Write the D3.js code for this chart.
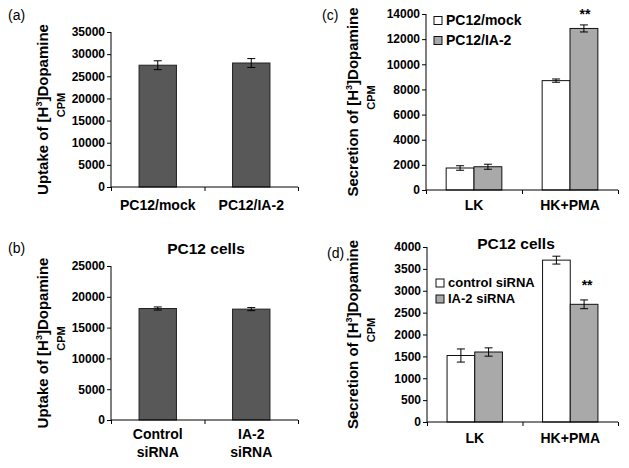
<!DOCTYPE html>
<html><head><meta charset="utf-8">
<script src="https://cdn.jsdelivr.net/npm/d3@7"></script>
<style>body{margin:0;background:#fff}svg{display:block}text{font-family:"Liberation Sans",Arial,sans-serif}</style>
</head><body>
<svg id="c" width="629" height="468"></svg>
<script>
// ---- data ----
const catsA = ["PC12/mock", "PC12/IA-2"];
const valsA = [27500, 28000];
const errA  = [1000, 1000];
const ticksA = [0,5000,10000,15000,20000,25000,30000,35000];

const catsB = [["Control","siRNA"], ["IA-2","siRNA"]];
const valsB = [18100, 18000];
const errB  = [250, 250];
const ticksB = [0,5000,10000,15000,20000,25000];

const catsC = ["LK", "HK+PMA"];
const seriesC = ["PC12/mock", "PC12/IA-2"];
const valsC_mock = [1750, 8700];
const valsC_ia2  = [1850, 12850];
const errC_mock  = [180, 130];
const errC_ia2   = [200, 280];
const ticksC = [0,2000,4000,6000,8000,10000,12000,14000];

const catsD = ["LK", "HK+PMA"];
const seriesD = ["control siRNA", "IA-2 siRNA"];
const valsD_ctrl = [1520, 3700];
const valsD_ia2  = [1600, 2690];
const errD_ctrl  = [150, 90];
const errD_ia2   = [95, 100];
const ticksD = [0,500,1000,1500,2000,2500,3000,3500,4000];

const svg = d3.select("#c");
const DARK = "#585858", GRAY = "#a9a9a9", WHITE = "#ffffff";

function yAxisTitle(g, x, yc, main){
  const t = g.append("text").attr("transform",`translate(${x},${yc}) rotate(-90)`)
    .attr("text-anchor","middle").attr("font-size",15).attr("font-weight","bold");
  t.append("tspan").text(main + " [H");
  t.append("tspan").attr("font-size",9).attr("dy",-6).text("3");
  t.append("tspan").attr("dy",6).text("]Dopamine");
  g.append("text").attr("transform",`translate(${x+17},${yc-4.5}) rotate(-90)`)
    .attr("text-anchor","middle").attr("font-size",11).attr("font-weight","bold").text("CPM");
}

function axes(g, x0, x1, y, ticks, catsCount){
  const ax = g.append("g").attr("transform",`translate(${x0},0)`)
    .call(d3.axisLeft(y).tickValues(ticks).tickSize(4).tickPadding(2).tickFormat(d3.format("d")));
  ax.select(".domain").attr("d",`M0,${y.range()[1]}V${y.range()[0]}`);
  ax.selectAll("text").attr("font-size",12).attr("font-weight","bold").attr("fill","#000")
    .style("font-family",'"Liberation Sans",Arial,sans-serif');
  const xb = d3.scaleLinear().domain([0,catsCount]).range([x0,x1]);
  const bx = g.append("g").attr("transform",`translate(0,${y(0)})`)
    .call(d3.axisBottom(xb).tickValues(d3.range(catsCount+1)).tickSize(4).tickFormat(""));
  bx.select(".domain").attr("d",`M${x0},0H${x1}`);
}

function errBar(g, cx, v, e, y){
  g.append("line").attr("x1",cx).attr("x2",cx).attr("y1",y(v+e)).attr("y2",y(v-e)).attr("stroke","#000");
  [v+e, v-e].forEach(w=>g.append("line").attr("x1",cx-4).attr("x2",cx+4).attr("y1",y(w)).attr("y2",y(w)).attr("stroke","#000"));
}

function single(p){
  const g = svg.append("g");
  const y = d3.scaleLinear().domain([0, p.ticks[p.ticks.length-1]]).range([p.yb, p.yt]);
  const x = d3.scaleBand().domain(d3.range(p.cats.length)).range([p.x0,p.x1]).paddingInner(0.6).paddingOuter(0.3);
  p.vals.forEach((v,i)=>{
    g.append("rect").attr("x",x(i)).attr("width",x.bandwidth()).attr("y",y(v)).attr("height",y(0)-y(v))
      .attr("fill",DARK).attr("stroke","#222").attr("stroke-width",1);
    errBar(g, x(i)+x.bandwidth()/2, v, p.err[i], y);
  });
  axes(g, p.x0, p.x1, y, p.ticks, p.cats.length);
  p.cats.forEach((c,i)=>{
    const lines = Array.isArray(c)?c:[c];
    lines.forEach((s,k)=>g.append("text").attr("x",x(i)+x.bandwidth()/2).attr("y",p.lb + k*18)
      .attr("text-anchor","middle").attr("font-size",14).attr("font-weight","bold").text(s));
  });
  yAxisTitle(g, p.tx, (p.yt+p.yb)/2, "Uptake of");
  g.append("text").attr("x",p.labX).attr("y",p.labY).attr("font-size",14).text(p.lab);
  if(p.title) g.append("text").attr("x",p.titleX).attr("y",p.titleY).attr("text-anchor","middle")
    .attr("font-size",15.5).attr("font-weight","bold").text(p.title);
}

function grouped(p){
  const g = svg.append("g");
  const y = d3.scaleLinear().domain([0, p.ticks[p.ticks.length-1]]).range([p.yb, p.yt]);
  const x = d3.scaleBand().domain(d3.range(p.cats.length)).range([p.x0,p.x1]).paddingInner(0.42).paddingOuter(0.21);
  const xs = d3.scaleBand().domain([0,1]).range([0,x.bandwidth()]);
  const fills = [WHITE, GRAY];
  p.series.forEach((s,si)=>{
    s.vals.forEach((v,i)=>{
      const bx = x(i)+xs(si);
      g.append("rect").attr("x",bx).attr("width",xs.bandwidth()).attr("y",y(v)).attr("height",y(0)-y(v))
        .attr("fill",fills[si]).attr("stroke","#111").attr("stroke-width",1);
      errBar(g, bx+xs.bandwidth()/2, v, s.err[i], y);
    });
  });
  axes(g, p.x0, p.x1, y, p.ticks, p.cats.length);
  p.cats.forEach((c,i)=>g.append("text").attr("x",x(i)+x.bandwidth()/2).attr("y",p.lb)
    .attr("text-anchor","middle").attr("font-size",14).attr("font-weight","bold").text(c));
  // significance
  g.append("text").attr("x",x(1)+xs(1)+xs.bandwidth()/2+p.starDx).attr("y",p.starY).attr("text-anchor","middle")
    .attr("font-size",14).attr("font-weight","bold").text("**");
  // legend
  p.names.forEach((n,k)=>{
    g.append("rect").attr("x",p.legX).attr("y",p.legY + k*p.legDy).attr("width",8).attr("height",8)
      .attr("fill",fills[k]).attr("stroke","#111");
    g.append("text").attr("x",p.legX+12).attr("y",p.legY + k*p.legDy + 8).attr("font-size",p.legFs)
      .attr("font-weight","bold").text(n);
  });
  yAxisTitle(g, p.tx, (p.yt+p.yb)/2, "Secretion of");
  g.append("text").attr("x",p.labX).attr("y",p.labY).attr("font-size",14).text(p.lab);
  if(p.title) g.append("text").attr("x",p.titleX).attr("y",p.titleY).attr("text-anchor","middle")
    .attr("font-size",15.5).attr("font-weight","bold").text(p.title);
}

single({cats:catsA, vals:valsA, err:errA, ticks:ticksA, x0:111, x1:298, yt:32, yb:187, lb:209.5,
  tx:47.5, lab:"(a)", labX:8, labY:20});
single({cats:catsB, vals:valsB, err:errB, ticks:ticksB, x0:111, x1:298, yt:266, yb:420, lb:438.5,
  tx:47.5, lab:"(b)", labX:8, labY:253, title:"PC12 cells", titleX:206, titleY:254});
grouped({cats:catsC, names:seriesC, series:[{vals:valsC_mock,err:errC_mock},{vals:valsC_ia2,err:errC_ia2}],
  ticks:ticksC, x0:426, x1:618, yt:14, yb:190, lb:209.5, tx:357.5, lab:"(c)", labX:322, labY:20,
  starY:18.5, starDx:1, legX:434, legY:16.5, legDy:20, legFs:14});
grouped({cats:catsD, names:seriesD, series:[{vals:valsD_ctrl,err:errD_ctrl},{vals:valsD_ia2,err:errD_ia2}],
  ticks:ticksD, x0:427, x1:618, yt:247, yb:422, lb:443, tx:357.5, lab:"(d)", labX:327, labY:258,
  starY:290, starDx:3, legX:436, legY:279, legDy:16, legFs:13,
  title:"PC12 cells", titleX:516, titleY:248.5});
</script>
</body></html>
